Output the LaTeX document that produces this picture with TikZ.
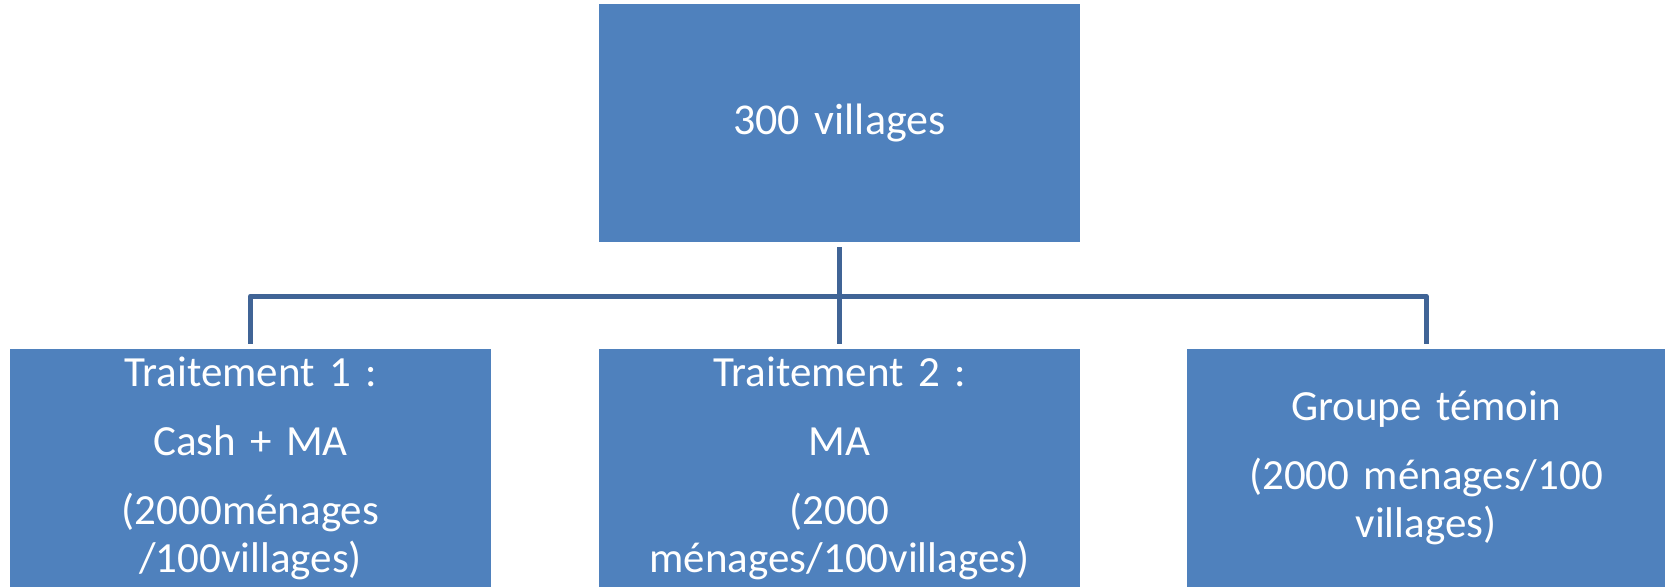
\documentclass[tikz,border=0pt]{standalone}
\usepackage{fontspec}
\setmainfont{Carlito}
\definecolor{boxblue}{RGB}{79,129,189}
\definecolor{lineblue}{RGB}{64,100,150}
\tikzset{
  box/.style={rectangle, fill=boxblue, draw=none, minimum width=481pt, minimum height=238pt,
    inner sep=0pt, text=white, align=center, text width=475pt},
  conn/.style={draw=lineblue, line width=5pt, line join=round, shorten <=5pt, shorten >=5pt},
  bigtxt/.style={font=\fontsize{43pt}{48pt}\selectfont},
  toptxt/.style={font=\fontsize{44pt}{50pt}\selectfont}
}
\begin{document}
\begin{tikzpicture}[x=1pt,y=-1pt]
\useasboundingbox (0,0) rectangle (1676,587);
\node[box, toptxt] (top) at (839.5,123) {300 villages};
\node[box, bigtxt] (b1) at (250.5,468) {Traitement 1 :\\[21pt] Cash + MA\\[21pt] (2000ménages\\ /100villages)};
\node[box, bigtxt] (b2) at (839.5,468) {Traitement 2 :\\[21pt] MA\\[21pt] (2000\\ ménages/100villages)};
\node[box, bigtxt, minimum width=478pt] (b3) at (1426,468) {Groupe témoin\\[21pt] (2000 ménages/100\\ villages)};
\coordinate (bus) at (839.5,296);
\draw[conn] (b1.north) |- (bus) -| (b3.north);
\draw[conn] (top.south) -- (b2.north);
\end{tikzpicture}
\end{document}
